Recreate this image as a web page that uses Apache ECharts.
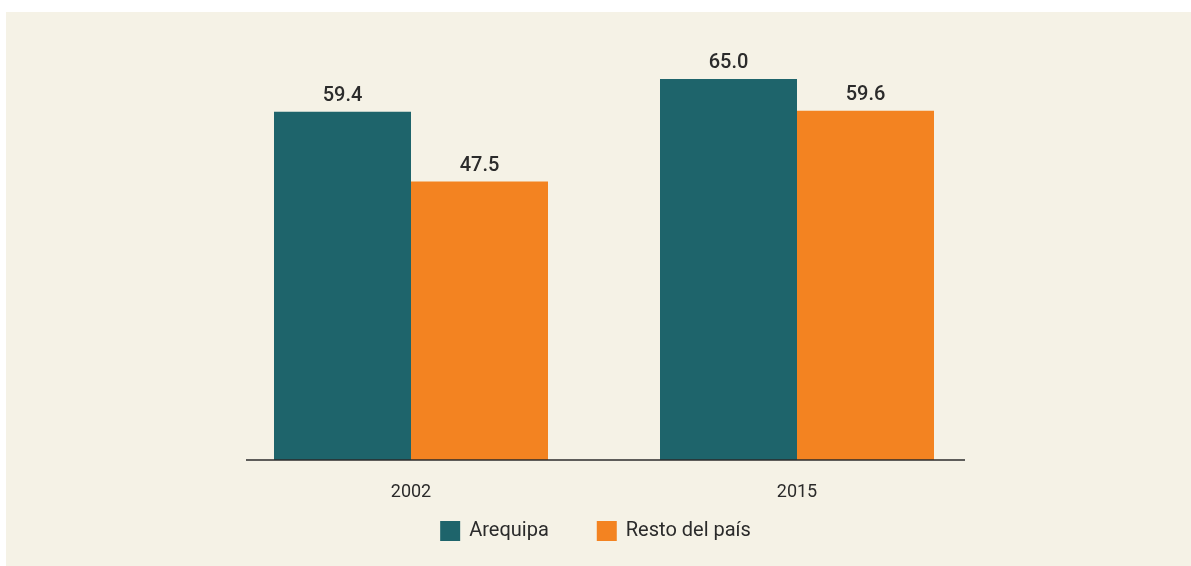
<!DOCTYPE html>
<html>
<head>
<meta charset="utf-8">
<script src="https://cdn.jsdelivr.net/npm/echarts@6/dist/echarts.min.js"></script>
<style>
  html, body { margin: 0; padding: 0; background: #ffffff; }
  #panel { position: absolute; left: 6px; top: 12px; width: 1185px; height: 554px; background: #f5f2e6; }
  #chart { position: absolute; left: 0; top: 0; width: 1191px; height: 566px; }
</style>
</head>
<body>
<div id="panel"></div>
<div id="chart"></div>
<script>
// ---------- 数据 ----------
var years = ['2002', '2015'];
var arequipa = [59.4, 65.0];
var restoPais = [47.5, 59.6];
var seriesNames = ['Arequipa', 'Resto del país'];

(function () {
  'use strict';

  var teal = '#1e646b';
  var orange = '#f38321';
  var ink = '#2b2b2b';
  var font = 'Roboto, "DejaVu Sans", sans-serif';

  var chart = echarts.init(document.getElementById('chart'));

  var labelStyle = {
    show: true,
    position: 'top',
    distance: 6,
    color: ink,
    fontFamily: font,
    fontSize: 20,
    fontWeight: 500,
    formatter: function (p) { return p.value.toFixed(1); }
  };

  var option = {
    backgroundColor: 'transparent',
    animation: false,
    grid: { left: 218, right: 201, top: 38, bottom: 106 },
    legend: {
      data: seriesNames,
      bottom: 20,
      left: 'center',
      itemWidth: 20,
      itemHeight: 20,
      itemGap: 48,
      icon: 'rect',
      textStyle: { color: ink, fontFamily: font, fontSize: 20, padding: [0, 0, 0, 4] }
    },
    xAxis: {
      type: 'category',
      data: years,
      axisLine: { show: false },
      axisTick: { show: false },
      axisLabel: { color: ink, fontFamily: font, fontSize: 18, margin: 23 }
    },
    yAxis: {
      type: 'value',
      min: 0,
      max: 72,
      show: false,
      splitLine: { show: false }
    },
    graphic: [{
      type: 'line',
      shape: { x1: 246, y1: 460, x2: 965, y2: 460 },
      style: { stroke: '#2b2b2b', lineWidth: 1.5 },
      z: 10
    }],
    series: [
      {
        name: seriesNames[0],
        type: 'bar',
        barWidth: 137,
        barGap: '0%',
        itemStyle: { color: teal },
        label: labelStyle,
        data: arequipa
      },
      {
        name: seriesNames[1],
        type: 'bar',
        barWidth: 137,
        barGap: '0%',
        itemStyle: { color: orange },
        label: labelStyle,
        data: restoPais
      }
    ]
  };

  chart.setOption(option);
  window.addEventListener('resize', function () { chart.resize(); });
})();
</script>
</body>
</html>
